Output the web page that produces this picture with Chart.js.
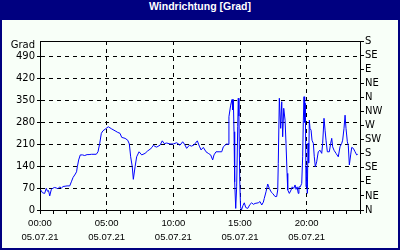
<!DOCTYPE html>
<html><head><meta charset="utf-8">
<script src="https://cdn.jsdelivr.net/npm/chart.js@4"></script>
<style>
html,body{margin:0;padding:0;background:#000080;}
#frame{position:relative;width:400px;height:250px;background:#000080;overflow:hidden;}
#title{position:absolute;left:0;top:0;width:400px;height:20px;line-height:19px;text-align:center;color:#fff;font:bold 10.5px "Liberation Sans",sans-serif;}
#wrap{position:absolute;left:2px;top:20px;width:396px;height:228px;background:#F8FFF8;}
canvas{display:block;}
</style></head><body>
<div id="frame"><div id="title">Windrichtung [Grad]</div><div id="wrap"><canvas id="c" width="396" height="228"></canvas></div></div>
<script>
const hours = [0.05,0.19,0.35,0.47,0.56,0.64,0.73,0.85,0.98,1.1,1.24,1.35,1.48,1.6,1.73,1.88,2.03,2.23,2.35,2.48,2.65,2.74,2.8,2.9,3.02,3.19,3.35,3.53,3.68,3.85,4.05,4.22,4.35,4.48,4.6,4.72,4.88,5.12,5.38,5.63,5.83,6.0,6.13,6.38,6.58,6.7,6.8,6.92,7.0,7.13,7.25,7.43,7.63,7.88,8.08,8.25,8.4,8.5,8.63,8.75,9.0,9.17,9.32,9.5,9.75,10.0,10.25,10.5,10.7,10.84,11.0,11.2,11.36,11.55,11.8,11.95,12.08,12.25,12.45,12.62,12.8,12.95,13.05,13.2,13.43,13.63,13.75,13.88,14.0,14.1,14.17,14.3,14.4,14.45,14.5,14.55,14.6,14.68,14.75,14.83,14.87,14.92,14.98,15.04,15.11,15.23,15.32,15.43,15.58,15.75,15.88,16.0,16.13,16.37,16.5,16.63,16.75,16.82,16.95,17.08,17.2,17.33,17.45,17.63,17.75,17.83,17.87,17.95,18.05,18.13,18.2,18.28,18.38,18.45,18.53,18.58,18.7,18.83,18.92,19.03,19.13,19.2,19.28,19.37,19.42,19.52,19.63,19.7,19.75,19.8,19.85,19.9,19.95,20.0,20.05,20.1,20.15,20.2,20.25,20.33,20.4,20.5,20.57,20.65,20.75,20.87,21.0,21.13,21.2,21.3,21.38,21.45,21.55,21.7,21.8,21.88,21.95,22.05,22.2,22.37,22.5,22.63,22.7,22.8,22.88,22.95,23.05,23.12,23.2,23.3,23.38,23.5,23.63,23.75,23.83];
const values = [64,55,53,69,60,62,45,66,70,72,70,68,74,70,75,76,77,77,90,104,115,122,138,160,176,176,174,177,177,178,178,178,186,213,245,253,258,266,259,253,248,245,232,229,223,211,170,138,98,138,170,186,176,181,189,194,200,207,203,201,207,221,212,214,211,211,215,207,218,210,197,207,204,208,221,204,192,200,186,181,176,160,176,186,186,186,202,207,211,210,298,335,353,320,353,250,90,5,74,266,357,300,96,10,0,15,23,8,5,18,23,18,21,23,27,16,25,37,58,83,69,58,53,43,43,64,149,357,261,346,234,325,287,213,117,64,53,64,74,69,80,66,74,53,74,74,85,170,287,362,280,341,74,138,53,213,150,287,261,255,223,213,170,138,154,186,191,181,213,293,255,223,186,186,213,229,202,191,181,170,202,213,223,261,303,261,218,207,144,176,200,197,186,176,178];
const leftTicks = [0,70,140,210,280,350,420,490];
const unitTick = 527;
const unitLabel = 'Grad';
const rightTicks = [0,45,90,135,180,225,270,315,360,405,450,495,540];
const compassLabels = ['N','NE','E','SE','S','SW','W','NW','N','NE','E','SE','S'];
const timeTicks = [0,5,10,15,20];
const timeLabels = ['00:00','05:00','10:00','15:00','20:00'];
const dateLabel = '05.07.21';

const points = hours.map((h,i)=>({x:h,y:values[i]}));
const clear = 'rgba(0,0,0,0)';

const topLine = {
  id:'topLine',
  afterDraw(chart){
    const {ctx, chartArea:a} = chart;
    ctx.save();
    ctx.strokeStyle = '#000'; ctx.lineWidth = 1;
    ctx.beginPath(); ctx.moveTo(a.left, a.top+0.5); ctx.lineTo(a.right, a.top+0.5); ctx.stroke();
    ctx.restore();
  }
};

new Chart(document.getElementById('c'), {
  type:'line',
  data:{datasets:[{data:points, borderColor:'#0000ff', borderWidth:1, pointRadius:0, tension:0, fill:false, yAxisID:'y'}]},
  options:{
    responsive:false, animation:false, events:[],
    layout:{padding:{top:21,left:0,right:0,bottom:0}},
    plugins:{legend:{display:false}, tooltip:{enabled:false}, title:{display:false}},
    scales:{
      x:{
        type:'linear', min:0, max:24,
        afterBuildTicks(s){ const t=[]; for(let h=0;h<=24;h++) t.push({value:h}); s.ticks=t; },
        afterFit(s){ s.height = 38; },
        ticks:{autoSkip:false, maxRotation:0, minRotation:0, color:'#000', padding:2,
          font:{family:'Liberation Sans', size:9.5, lineHeight:1.5},
          callback(v){ const i = timeTicks.indexOf(v); return i>=0 ? [timeLabels[i], dateLabel] : ''; }},
        grid:{color:(c)=> (c.tick && c.tick.value%5===0 && c.tick.value>0 && c.tick.value<24) ? '#000' : clear,
              tickColor:'#000', tickLength:4, lineWidth:1},
        border:{display:true, color:'#000', width:1, dash:[4,4]}
      },
      y:{
        type:'linear', position:'left', min:0, max:540,
        afterBuildTicks(s){ s.ticks = leftTicks.map(v=>({value:v})).concat([{value:unitTick}]); },
        afterFit(s){ s.width = 38; },
        ticks:{autoSkip:false, color:'#000', padding:2, font:{family:'DejaVu Sans', size:10},
          callback(v){ return v===unitTick ? unitLabel : String(v); }},
        grid:{color:(c)=> (c.tick && c.tick.value>0 && c.tick.value<=490) ? '#000' : clear,
              tickColor:(c)=> (c.tick && c.tick.value===unitTick) ? clear : '#000', tickLength:3, lineWidth:1},
        border:{display:true, color:'#000', width:1, dash:[4,4]}
      },
      y2:{
        type:'linear', position:'right', min:0, max:540,
        afterBuildTicks(s){ s.ticks = rightTicks.map(v=>({value:v})); },
        afterFit(s){ s.width = 38; },
        ticks:{autoSkip:false, color:'#000', padding:1, font:{family:'DejaVu Sans', size:10},
          callback(v){ const i = rightTicks.indexOf(v); return i>=0 ? compassLabels[i] : ''; }},
        grid:{drawOnChartArea:false, tickColor:'#000', tickLength:4},
        border:{display:true, color:'#000', width:1}
      }
    }
  },
  plugins:[topLine]
});
</script>
</body></html>
